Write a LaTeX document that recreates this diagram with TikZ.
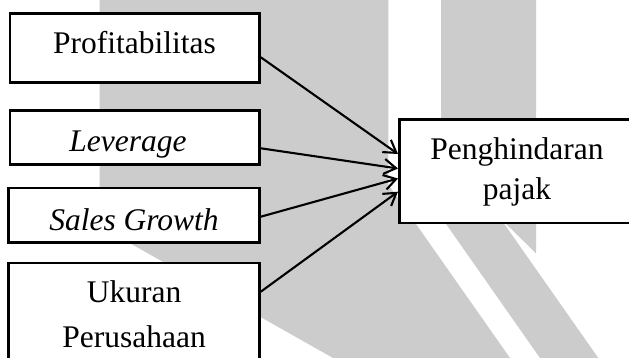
\documentclass[tikz,border=0pt]{standalone}
\usepackage{fontspec}
\setmainfont{Liberation Serif}
\usetikzlibrary{arrows.meta}
\definecolor{wm}{HTML}{CCCCCC}
\tikzset{
  box/.style={draw=black, line width=2.6pt, fill=white, inner sep=0pt},
  lbl/.style={anchor=base, inner sep=0pt, font=\fontsize{31.5}{40.5}\selectfont},
  conn/.style={line width=2.1pt, -{Straight Barb[length=12pt,width=15pt,line width=2.1pt]}},
  wmark/.style={fill=wm, draw=none},
}
\begin{document}
\begin{tikzpicture}[x=1pt,y=-1pt]
\path[use as bounding box, clip] (0,0) rectangle (629,358);
% watermark shapes
\fill[wmark] (99.5,0) -- (388.3,0) -- (388.3,184.5) -- (510,358) -- (333,358) -- (99.5,226) -- cycle;
\fill[wmark] (441,0) -- (536,0) -- (536,253.3) -- (441,160) -- cycle;
\fill[wmark] (429.2,200) -- (540,358) -- (598.3,358) -- (487.5,200) -- cycle;
% boxes
\node[box, minimum width=249.5pt, minimum height=69.4pt] (prof) at (134.75,48) {};
\node[box, minimum width=249.5pt, minimum height=54pt] (lev) at (134.75,137.7) {};
\node[box, minimum width=250.8pt, minimum height=54.3pt] (sales) at (134.1,215.2) {};
\node[box, minimum width=250.8pt, minimum height=107pt] (ukuran) at (134.1,316.5) {};
\node[box, minimum width=240.7pt, minimum height=103.3pt] (peng) at (519.65,171.35) {};
% labels (base anchor of a two-line node is the last line's baseline)
\node[lbl] (profT) at (134.5,54) {Profitabilitas};
\node[lbl] (levT) at (128,151.5) {\itshape Leverage};
\node[lbl] (salesT) at (134,230) {\itshape Sales Growth};
\node[lbl, align=center, font=\fontsize{31.5}{45}\selectfont] (ukuranT) at (134.2,347.3) {Ukuran\\Perusahaan};
\node[lbl, align=center] (pengT) at (517,200) {Penghindaran\\pajak};
% connectors
\draw[conn] ([yshift=-9.3pt]prof.east) -- ([yshift=17.35pt]peng.west);
\draw[conn] ([yshift=-10.6pt]lev.east) -- ([yshift=2.85pt]peng.west);
\draw[conn] ([yshift=-1.5pt]sales.east) -- ([yshift=-7.15pt]peng.west);
\draw[conn] ([yshift=24.8pt]ukuran.east) -- ([yshift=-20.35pt]peng.west);
\end{tikzpicture}
\end{document}
